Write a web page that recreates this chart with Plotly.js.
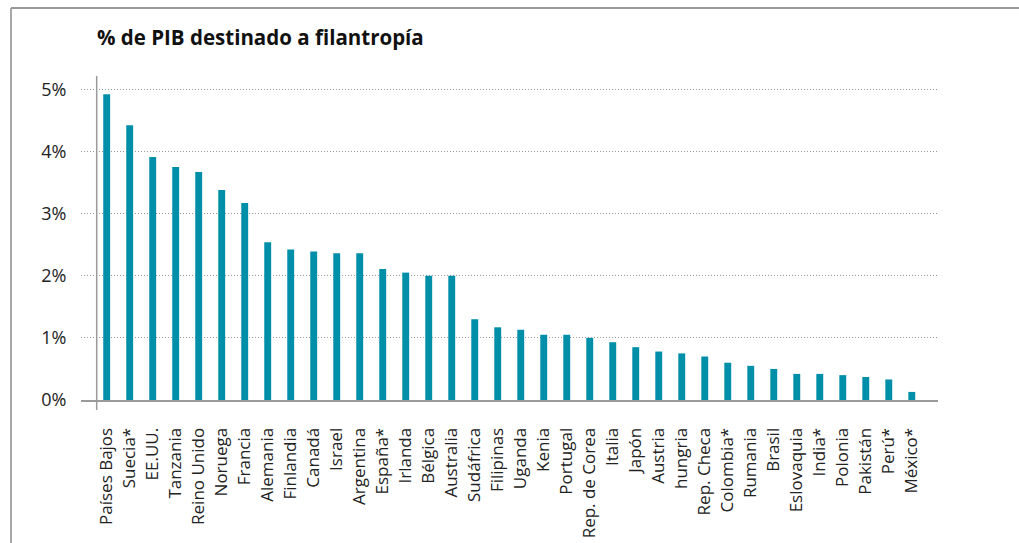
<!DOCTYPE html>
<html>
<head>
<meta charset="utf-8">
<script src="https://cdn.plot.ly/plotly-3.0.1.min.js"></script>
<style>html,body{margin:0;padding:0;background:#fff}#chart{width:1019px;height:543px}</style>
</head>
<body>
<div id="chart"></div>
<script>
const countries = ["Países Bajos","Suecia*","EE.UU.","Tanzania","Reino Unido","Noruega","Francia","Alemania","Finlandia","Canadá","Israel","Argentina","España*","Irlanda","Bélgica","Australia","Sudáfrica","Filipinas","Uganda","Kenia","Portugal","Rep. de Corea","Italia","Japón","Austria","hungria","Rep. Checa","Colombia*","Rumania","Brasil","Eslovaquia","India*","Polonia","Pakistán","Perú*","México*"];
const pctGDP = [4.92,4.42,3.91,3.75,3.67,3.38,3.17,2.54,2.42,2.39,2.36,2.36,2.11,2.05,2.0,2.0,1.30,1.17,1.13,1.05,1.05,1.0,0.93,0.85,0.78,0.75,0.70,0.60,0.55,0.50,0.42,0.42,0.40,0.37,0.33,0.13];
const yTickVals = [0,1,2,3,4,5];
const yTickText = ["0%","1%","2%","3%","4%","5%"];
const chartTitle = "% de PIB destinado a filantropía";

const W = 1019, H = 543;
const L = 81, R = 81, T = 76, B = 143;
const pw = W - L - R, ph = H - T - B;
const xr = [-1.117, 36.14];
const lineCol = "#9a9a9a";

const data = [{
  type: "bar",
  x: countries,
  y: pctGDP,
  marker: {color: "#008fa8"},
  hoverinfo: "x+y"
}];

const layout = {
  width: W, height: H,
  margin: {l: L, r: R, t: T, b: B, pad: 0},
  paper_bgcolor: "#fff", plot_bgcolor: "#fff",
  bargap: 0.7,
  showlegend: false,
  font: {family: "Open Sans, DejaVu Sans, sans-serif", color: "#222"},
  title: {
    text: "<b>" + chartTitle + "</b>",
    font: {size: 20.5, color: "#111", family: "Open Sans, DejaVu Sans, sans-serif"},
    xref: "container", yref: "container",
    x: 97 / W, xanchor: "left",
    y: 1 - 38 / H, yanchor: "middle"
  },
  xaxis: {
    type: "category",
    range: xr,
    tickangle: -90,
    tickfont: {size: 17, color: "#222"},
    showgrid: false,
    zeroline: false,
    showline: true, linecolor: lineCol, linewidth: 2,
    ticks: "outside", ticklen: 19, tickcolor: "rgba(0,0,0,0)",
    fixedrange: true
  },
  yaxis: {
    range: [0, 5.214],
    tickvals: yTickVals,
    ticktext: yTickText,
    tickfont: {size: 18, color: "#222"},
    showgrid: true, gridcolor: "#999", griddash: "1px,2px", gridwidth: 1,
    zeroline: false, showline: false,
    ticks: "outside", ticklen: 10, tickcolor: "rgba(0,0,0,0)",
    fixedrange: true
  },
  shapes: [
    {type: "line", xref: "x", yref: "paper", x0: -0.435, x1: -0.435, y0: -10/ph, y1: 1,
     line: {color: lineCol, width: 1.5}},
    {type: "line", xref: "paper", yref: "paper", x0: (11-L)/pw, x1: (11-L)/pw, y0: (T+ph-8)/ph, y1: (T+ph-H)/ph,
     line: {color: "#a8a8a8", width: 2}},
    {type: "line", xref: "paper", yref: "paper", x0: (11-L)/pw, x1: (W-L)/pw, y0: (T+ph-8)/ph, y1: (T+ph-8)/ph,
     line: {color: "#999", width: 2}}
  ]
};

Plotly.newPlot("chart", data, layout, {displayModeBar: false, staticPlot: false});
</script>
</body>
</html>
